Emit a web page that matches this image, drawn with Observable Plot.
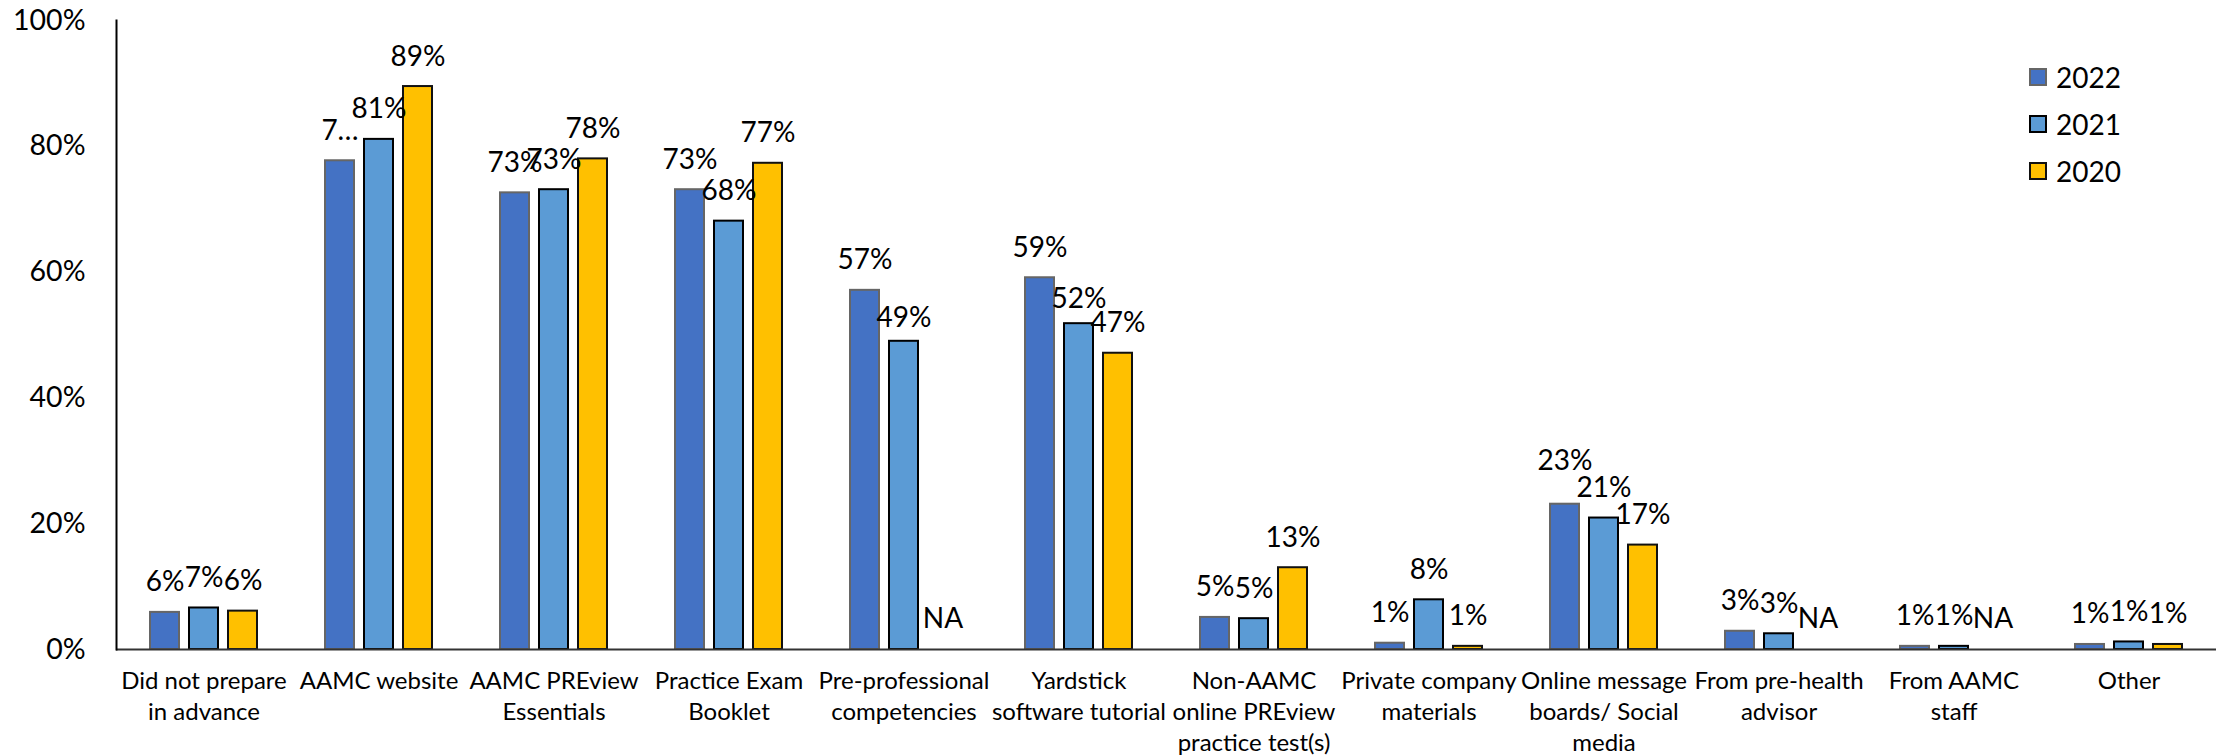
<!DOCTYPE html>
<html><head><meta charset="utf-8">
<script src="https://cdn.jsdelivr.net/npm/d3@7"></script>
<script src="https://cdn.jsdelivr.net/npm/@observablehq/plot@0.6"></script>
<style>
body{margin:0;background:#fff;}
#wrap{position:relative;width:2218px;height:756px;}
#legend{position:absolute;left:2029px;top:53px;font-family:Lato,sans-serif;font-size:28px;color:#000;}
.row{display:flex;align-items:center;height:47px;}
.sw{width:18px;height:18px;box-sizing:border-box;border:2px solid #000;margin-right:9px;}
</style></head><body><div id="wrap"><div id="legend"></div></div>
<script>
const categories = [
  "Did not prepare\nin advance", "AAMC website", "AAMC PREview\nEssentials", "Practice Exam\nBooklet",
  "Pre-professional\ncompetencies", "Yardstick\nsoftware tutorial", "Non-AAMC\nonline PREview\npractice test(s)",
  "Private company\nmaterials", "Online message\nboards/ Social\nmedia", "From pre-health\nadvisor",
  "From AAMC\nstaff", "Other"
];
const years = ["2022", "2021", "2020"];
const values2022 = [5.9, 77.7, 72.6, 73.1, 57.1, 59.1, 5.1, 1.0, 23.1, 2.9, 0.5, 0.8];
const values2021 = [6.6, 81.1, 73.1, 68.1, 49.0, 51.8, 4.9, 7.9, 20.9, 2.5, 0.5, 1.2];
const values2020 = [6.1, 89.5, 78.0, 77.3, null, 47.1, 13.0, 0.5, 16.6, null, null, 0.8];
const labels2022 = ["6%", "7…", "73%", "73%", "57%", "59%", "5%", "1%", "23%", "3%", "1%", "1%"];
const labels2021 = ["7%", "81%", "73%", "68%", "49%", "52%", "5%", "8%", "21%", "3%", "1%", "1%"];
const labels2020 = ["6%", "89%", "78%", "77%", "NA", "47%", "13%", "1%", "17%", "NA", "NA", "1%"];
const yTicks = [0, 0.2, 0.4, 0.6, 0.8, 1.0];

const fills = {"2022": "#4472C4", "2021": "#5B9BD5", "2020": "#FFC000"};
const strokes = {"2022": "#666666", "2021": "#000000", "2020": "#111111"};

// label nudges (extra pixel lift) where the reference moved a label to avoid overlap
const lift = {"2022|8": 13, "2021|4": -7, "2021|5": -5};

const series = [
  {year: "2022", values: values2022, labels: labels2022, inL: 34, inR: 112, dx: -39},
  {year: "2021", values: values2021, labels: labels2021, inL: 73, inR: 73, dx: 0},
  {year: "2020", values: values2020, labels: labels2020, inL: 112, inR: 34, dx: 39}
];
const rows = s => categories.map((c, i) => ({
  category: c, year: s.year, idx: i,
  value: s.values[i] == null ? null : s.values[i] / 100,
  labelY: s.values[i] == null ? 0 : s.values[i] / 100,
  label: s.labels[i]
}));

const marks = [];
for (const s of series) {
  const d = rows(s);
  marks.push(Plot.barY(d.filter(r => r.value != null), {
    x: "category", y: "value", fill: fills[s.year], stroke: strokes[s.year], strokeWidth: 2,
    insetLeft: s.inL, insetRight: s.inR
  }));
}
for (const s of series) {
  const d = rows(s);
  const plain = d.filter(r => !lift[s.year + "|" + r.idx]);
  marks.push(Plot.text(plain, {
    x: "category", y: "labelY", text: "label", dx: s.dx, dy: -30,
    fontSize: 28, fill: "#000"
  }));
  for (const r of d.filter(r => lift[s.year + "|" + r.idx])) {
    marks.push(Plot.text([r], {
      x: "category", y: "labelY", text: "label", dx: s.dx, dy: -30 - lift[s.year + "|" + r.idx],
      fontSize: 28, fill: "#000"
    }));
  }
}

const chart = Plot.plot({
  width: 2218, height: 756,
  marginLeft: 116, marginRight: 2, marginTop: 20, marginBottom: 107,
  style: {fontFamily: "Lato, sans-serif", background: "transparent", overflow: "visible", color: "#000"},
  x: {domain: categories, padding: 0, label: null},
  y: {domain: [0, 1], label: null},
  marks: [
    Plot.axisY(yTicks, {tickSize: 0, tickPadding: 31, fontSize: 28.5, tickFormat: d3.format(".0%"), label: null}),
    Plot.axisX({tickSize: 0, tickPadding: 17, fontSize: 24, lineHeight: 1.3, label: null}),
    ...marks,
    Plot.ruleY([0], {stroke: "#333", strokeWidth: 2}),
    Plot.frame({anchor: "left", stroke: "#000", strokeWidth: 2})
  ]
});
const wrap = document.getElementById("wrap");
wrap.insertBefore(chart, wrap.firstChild);
chart.style.position = "absolute";
chart.style.left = "0px";
chart.style.top = "0px";

const legend = document.getElementById("legend");
for (const y of years) {
  const row = document.createElement("div");
  row.className = "row";
  const sw = document.createElement("div");
  sw.className = "sw";
  sw.style.background = fills[y];
  sw.style.borderColor = strokes[y];
  const t = document.createElement("span");
  t.textContent = y;
  row.appendChild(sw); row.appendChild(t);
  legend.appendChild(row);
}
</script>
</body></html>
